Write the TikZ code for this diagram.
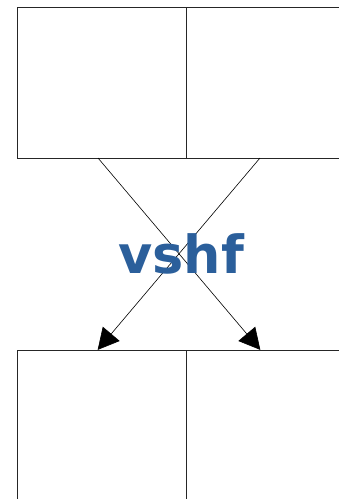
\documentclass[tikz,border=0pt]{standalone}
\usepackage{fontspec}
\newfontfamily\labelfont{DejaVu Sans}
\usetikzlibrary{arrows.meta}
\definecolor{lblue}{HTML}{2B5F9B}
\tikzset{
  cell/.style={draw=black!85, line width=0.8pt, rectangle, inner sep=0pt},
  link/.style={draw=black, line width=0.6pt, -{Triangle[length=21pt,width=22pt]}, shorten >=-0.5pt}
}
\begin{document}
\begin{tikzpicture}[x=1pt,y=-1pt]
\useasboundingbox (0,0) rectangle (339,499);
\clip (0,0) rectangle (339,499);
\node[cell, minimum width=169pt, minimum height=151pt, anchor=north west] (tl) at (17,7) {};
\node[cell, minimum width=180pt, minimum height=151pt, anchor=north west] (tr) at (186,7) {};
\node[cell, minimum width=169pt, minimum height=170pt, anchor=north west] (bl) at (17,349.5) {};
\node[cell, minimum width=180pt, minimum height=170pt, anchor=north west] (br) at (186,349.5) {};
\coordinate (s1) at (98,158);
\coordinate (s2) at (260,158);
\coordinate (e1) at (260,349.5);
\coordinate (e2) at (98,349.5);
\draw[link] (s1) -- (e1);
\draw[link] (s2) -- (e2);
\node[text=lblue, font=\labelfont\bfseries\fontsize{52.5}{60}\selectfont, anchor=base, inner sep=0pt] (lbl) at (181,273) {vshf};
\end{tikzpicture}
\end{document}
